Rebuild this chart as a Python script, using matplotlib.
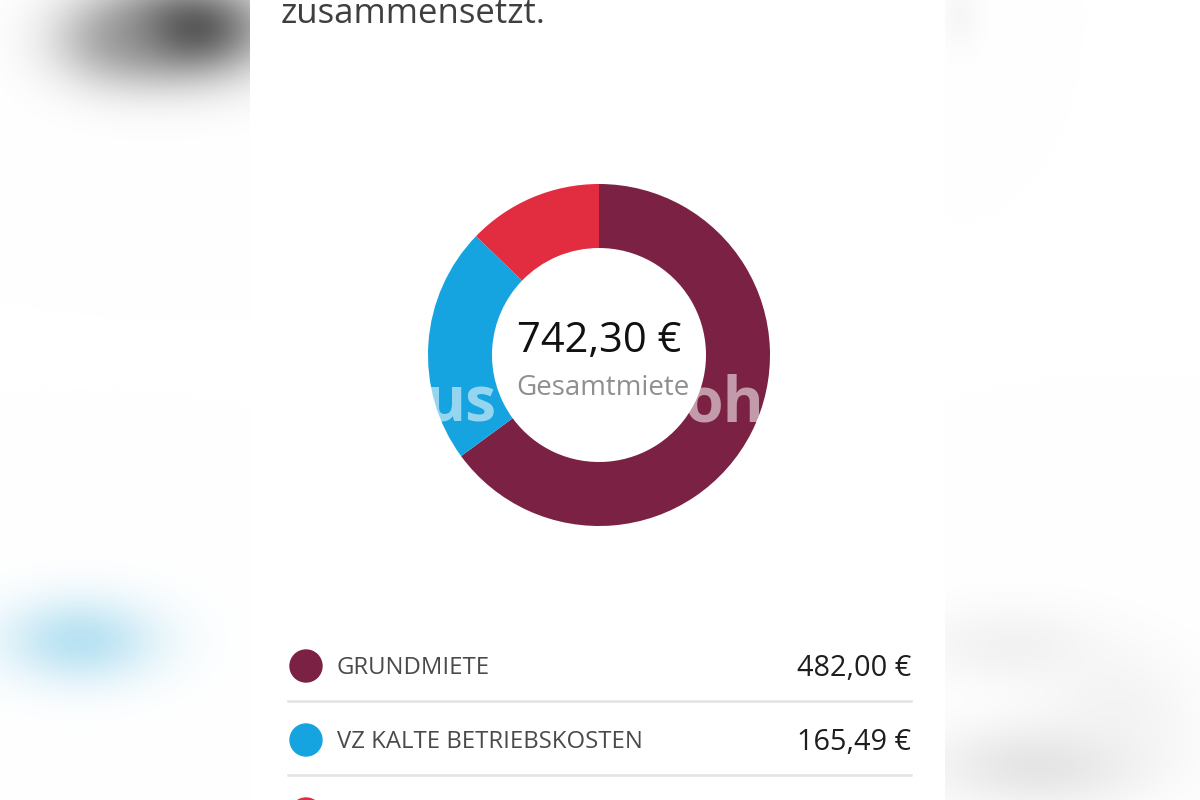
import numpy as np
import matplotlib
matplotlib.use('Agg')
import matplotlib.pyplot as plt

plt.rcParams['font.family'] = ['Open Sans', 'DejaVu Sans']

# data
categories = ['GRUNDMIETE', 'VZ KALTE BETRIEBSKOSTEN', 'VZ HEIZKOSTEN']
values = [482.00, 165.49, 94.81]
colors = ['#7b2143', '#16a4e0', '#e22d41']
total_label = 'Gesamtmiete'
title_text = 'zusammensetzt.'


def euro(v):
    return '{:.2f}'.format(v).replace('.', ',') + ' €'


W, H = 1200, 800


def Y(py):
    # pixel row from top -> data y
    return H - py


fig = plt.figure(figsize=(12, 8), dpi=100)
ax = fig.add_axes([0, 0, 1, 1])

# blurred screenshot background on both sides
yy, xx = np.mgrid[0:H, 0:W]
img = np.ones((H, W, 3))


def blob(cx, cy, sx, sy, rgb, strength):
    g = strength * np.exp(-(((xx - cx) / sx) ** 2 + ((yy - cy) / sy) ** 2) / 2)
    for c in range(3):
        img[:, :, c] = img[:, :, c] * (1 - g) + rgb[c] * g


blob(190, 28, 55, 34, (0.30, 0.30, 0.30), 0.95)
blob(115, 40, 45, 32, (0.50, 0.50, 0.50), 0.55)
blob(80, 640, 55, 30, (0.66, 0.86, 0.94), 0.8)
blob(1010, 645, 65, 28, (0.90, 0.90, 0.90), 0.5)
blob(1040, 765, 75, 30, (0.83, 0.83, 0.83), 0.6)
blob(1120, 705, 55, 40, (0.92, 0.92, 0.92), 0.5)
blob(960, 15, 15, 25, (0.95, 0.95, 0.95), 0.6)
ax.imshow(img, extent=(0, W, 0, H), origin='upper', zorder=0)

# white page panel
ax.add_patch(plt.Rectangle((250, 0), 695, H, facecolor='white',
                           edgecolor='none', zorder=1))

# title (cut at top)
ax.text(281, Y(23), title_text, fontsize=25, color='#3f3f3f',
        ha='left', va='baseline', zorder=3)

# donut
cx, cy, r_out, ring = 599, 355, 171, 64
wedges, _ = ax.pie(values, colors=colors, startangle=90, counterclock=False,
                   radius=r_out, center=(cx, Y(cy)),
                   wedgeprops=dict(width=ring, edgecolor='none'))
for w in wedges:
    w.set_zorder(2)

ax.text(cx, Y(341), euro(sum(values)), fontsize=30, color='#111111',
        ha='center', va='center', zorder=3)
ax.text(cx + 4, Y(388), total_label, fontsize=20, color='#8f8f8f',
        ha='center', va='center', zorder=3)

# watermark fragments
ax.text(424, Y(422), 'us', fontsize=45, fontweight='bold', color='white',
        alpha=0.55, ha='left', va='baseline', zorder=4)
ax.text(684, Y(422), 'oh', fontsize=45, fontweight='bold', color='white',
        alpha=0.55, ha='left', va='baseline', zorder=4)

# legend rows
row0, step = 666, 74
for i, (lab, val, col) in enumerate(zip(categories, values, colors)):
    ry = row0 + i * step
    ax.add_patch(plt.Circle((306, Y(ry)), 16, color=col, zorder=3))
    if ry + 20 < H:
        ax.text(337, Y(ry + 8), lab, fontsize=17.2, color='#4a4a4a',
                ha='left', va='baseline', zorder=3)
        ax.text(911, Y(ry + 10), euro(val), fontsize=20.8, color='#1e1e1e',
                ha='right', va='baseline', zorder=3)
    sep = ry + 35
    ax.plot([288, 911], [Y(sep), Y(sep)], color='#e3e3e3', lw=1.8, zorder=3)

ax.set_xlim(0, W)
ax.set_ylim(0, H)
ax.set_aspect('auto')
ax.axis('off')

fig.savefig('out.png', dpi=100)
